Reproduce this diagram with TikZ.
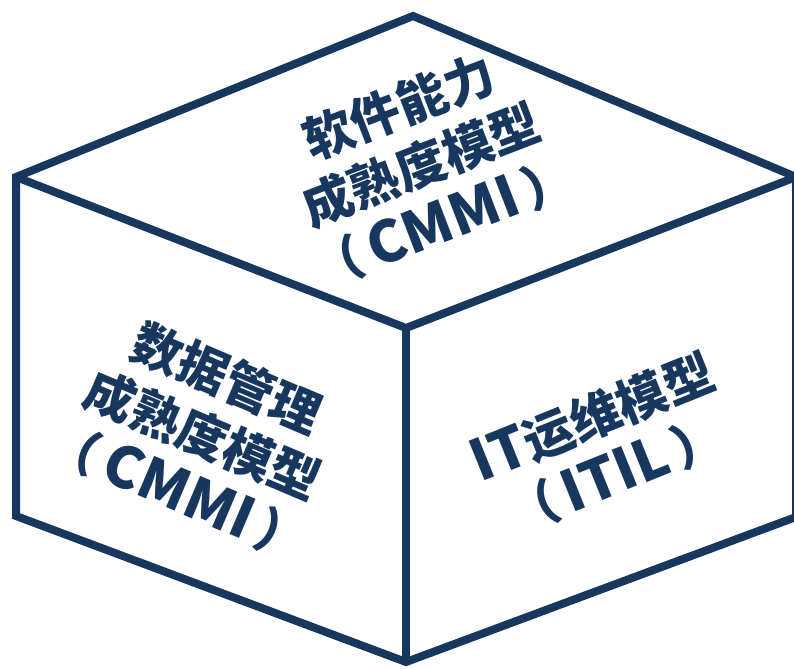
\documentclass[tikz,border=0pt]{standalone}
\usepackage{fontspec}
\newfontfamily\cjk{Noto Sans CJK SC}
\definecolor{navy}{HTML}{17375E}
\newcommand\biglatin[1]{{\fontsize{57bp}{62bp}\selectfont #1}}
\begin{document}
\begin{tikzpicture}[x=1bp,y=-1bp,
  edge/.style={draw=navy,line width=8bp,line join=miter},
  facetext/.style={text=navy,font=\cjk\bfseries\fontsize{50bp}{62bp}\selectfont,align=center,inner sep=0pt}]
\useasboundingbox (0,0) rectangle (794,669);
\coordinate (T) at (413,16);
\coordinate (L) at (16,177);
\coordinate (C) at (406,328);
\coordinate (R) at (796,177);
\coordinate (LB) at (16,516);
\coordinate (B) at (406,662);
\coordinate (RB) at (796,517);
\draw[edge] (T) -- (L) -- (LB) -- (B) -- (RB) -- (R) -- cycle;
\draw[edge] (L) -- (C) -- (R);
\draw[edge] (C) -- (B);
\node[facetext,rotate=21] (topface) at (421,165) {软件能力\\成熟度模型\\（\,\biglatin{CMMI}\,）};
\node[facetext,rotate=-23] (leftface) at (203,435) {数据管理\\成熟度模型\\（\,\biglatin{CMMI}\,）};
\node[facetext,rotate=22] (rightface) at (604,446) {\biglatin{IT}运维模型\\（\,\biglatin{ITIL}\,）};
\end{tikzpicture}
\end{document}
